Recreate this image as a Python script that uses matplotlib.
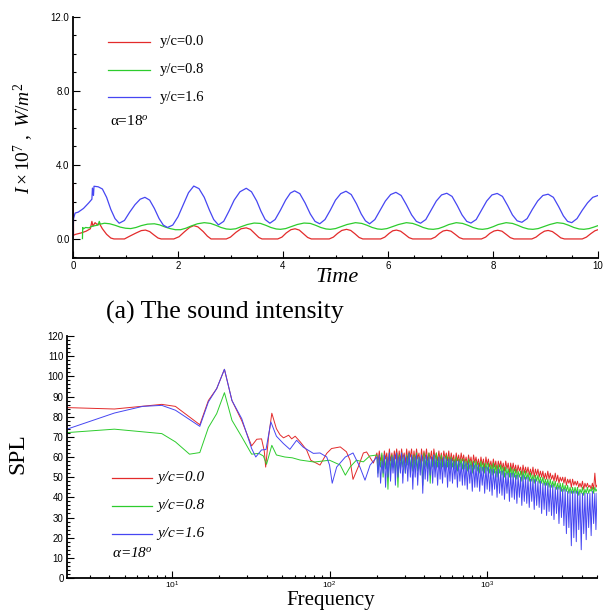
import matplotlib
matplotlib.use("Agg")
import matplotlib.pyplot as plt
from matplotlib.lines import Line2D
from matplotlib.ticker import MultipleLocator, FormatStrFormatter, LogLocator
import numpy as np

plt.rcParams['font.family'] = ['Liberation Serif', 'DejaVu Serif']
plt.rcParams['mathtext.fontset'] = 'custom'
plt.rcParams['mathtext.rm'] = 'Liberation Serif'
plt.rcParams['mathtext.it'] = 'Liberation Serif:italic'

RED = '#e32b2b'
GREEN = '#2dcc2d'
BLUE = '#4646f2'

labels = ['y/c=0.0', 'y/c=0.8', 'y/c=1.6']

# ---- (a) sound intensity vs time  (I x 1e7, W/m^2)
t_red = [0.00, 0.005, 0.01, 0.05, 0.15, 0.25, 0.33, 0.36, 0.38, 0.42, 0.46, 0.50, 0.56, 0.64,
         0.72, 0.78, 0.98, 1.08, 1.20, 1.30, 1.38, 1.46, 1.54, 1.62, 1.68, 1.92, 2.02, 2.12,
         2.22, 2.30, 2.38, 2.48, 2.56, 2.63, 2.92, 3.00, 3.10, 3.20, 3.30, 3.38, 3.46, 3.54,
         3.60, 3.90, 3.98, 4.06, 4.15, 4.23, 4.31, 4.39, 4.47, 4.54, 4.88, 4.96, 5.04, 5.12,
         5.21, 5.29, 5.37, 5.45, 5.52, 5.86, 5.94, 6.02, 6.09, 6.16, 6.24, 6.32, 6.40, 6.47,
         6.82, 6.90, 6.98, 7.05, 7.12, 7.20, 7.28, 7.36, 7.43, 7.78, 7.86, 7.94, 8.02, 8.09,
         8.17, 8.25, 8.33, 8.40, 8.74, 8.82, 8.90, 8.98, 9.05, 9.13, 9.21, 9.29, 9.36, 9.70,
         9.78, 9.86, 9.94, 10.0]
i_red = [0.00, 3.00, 0.20, 0.25, 0.32, 0.42, 0.55, 0.95, 0.70, 0.88, 0.78, 0.85, 0.55, 0.25,
         0.05, 0.00, 0.00, 0.15, 0.32, 0.45, 0.48, 0.40, 0.22, 0.05, 0.00, 0.00, 0.12, 0.38,
         0.62, 0.72, 0.65, 0.40, 0.15, 0.00, 0.00, 0.10, 0.35, 0.55, 0.60, 0.52, 0.30, 0.08,
         0.00, 0.00, 0.10, 0.32, 0.50, 0.55, 0.48, 0.28, 0.08, 0.00, 0.00, 0.10, 0.30, 0.46,
         0.52, 0.46, 0.28, 0.08, 0.00, 0.00, 0.10, 0.30, 0.44, 0.48, 0.42, 0.25, 0.07, 0.00,
         0.00, 0.10, 0.30, 0.43, 0.47, 0.42, 0.25, 0.07, 0.00, 0.00, 0.10, 0.30, 0.43, 0.47,
         0.42, 0.25, 0.07, 0.00, 0.00, 0.10, 0.28, 0.42, 0.46, 0.40, 0.24, 0.06, 0.00, 0.00,
         0.10, 0.28, 0.44, 0.50]

t_green = [0.18, 0.185, 0.20, 0.24, 0.30, 0.36, 0.42, 0.48, 0.50, 0.52, 0.60, 0.70, 0.80, 0.90,
           1.00, 1.10, 1.20, 1.30, 1.42, 1.55, 1.65, 1.75, 1.85, 1.95, 2.05, 2.15, 2.25, 2.37,
           2.50, 2.62, 2.72, 2.82, 2.92, 3.00, 3.10, 3.20, 3.32, 3.45, 3.57, 3.67, 3.77, 3.87,
           3.95, 4.05, 4.15, 4.27, 4.40, 4.52, 4.62, 4.72, 4.82, 4.90, 5.00, 5.10, 5.22, 5.38,
           5.50, 5.60, 5.70, 5.80, 5.88, 5.98, 6.08, 6.20, 6.35, 6.47, 6.57, 6.67, 6.77, 6.86,
           6.96, 7.06, 7.16, 7.30, 7.42, 7.52, 7.62, 7.72, 7.80, 7.90, 8.00, 8.10, 8.25, 8.37,
           8.47, 8.57, 8.67, 8.76, 8.86, 8.96, 9.08, 9.22, 9.34, 9.44, 9.54, 9.64, 9.73, 9.83,
           9.92, 10.0]
i_green = [0.02, 0.62, 0.55, 0.62, 0.60, 0.68, 0.72, 0.75, 0.95, 0.80, 0.85, 0.82, 0.74, 0.64,
           0.58, 0.56, 0.62, 0.72, 0.80, 0.82, 0.76, 0.65, 0.56, 0.50, 0.50, 0.58, 0.70, 0.82,
           0.88, 0.84, 0.74, 0.62, 0.54, 0.52, 0.55, 0.66, 0.78, 0.86, 0.84, 0.74, 0.62, 0.54,
           0.52, 0.56, 0.66, 0.78, 0.86, 0.84, 0.74, 0.62, 0.54, 0.52, 0.56, 0.66, 0.78, 0.88,
           0.84, 0.74, 0.62, 0.54, 0.52, 0.56, 0.66, 0.78, 0.88, 0.84, 0.74, 0.62, 0.54, 0.52,
           0.56, 0.66, 0.78, 0.88, 0.84, 0.74, 0.62, 0.54, 0.52, 0.56, 0.66, 0.78, 0.88, 0.84,
           0.74, 0.62, 0.54, 0.52, 0.56, 0.66, 0.78, 0.88, 0.84, 0.74, 0.62, 0.54, 0.52, 0.56,
           0.64, 0.72]

t_blue = [0.00, 0.01, 0.04, 0.10, 0.20, 0.30, 0.36, 0.37, 0.39, 0.40, 0.48, 0.56, 0.64, 0.72,
          0.80, 0.88, 0.98, 1.08, 1.18, 1.28, 1.37, 1.46, 1.55, 1.64, 1.72, 1.80, 1.90, 2.00,
          2.10, 2.20, 2.30, 2.40, 2.50, 2.60, 2.68, 2.77, 2.87, 2.97, 3.07, 3.18, 3.30, 3.40,
          3.50, 3.58, 3.66, 3.75, 3.85, 3.95, 4.05, 4.14, 4.22, 4.32, 4.42, 4.52, 4.61, 4.70,
          4.80, 4.90, 5.00, 5.10, 5.20, 5.30, 5.40, 5.49, 5.57, 5.65, 5.75, 5.85, 5.95, 6.05,
          6.15, 6.25, 6.35, 6.45, 6.54, 6.62, 6.72, 6.82, 6.92, 7.02, 7.12, 7.22, 7.32, 7.41,
          7.50, 7.58, 7.68, 7.78, 7.88, 7.98, 8.08, 8.18, 8.28, 8.37, 8.46, 8.55, 8.65, 8.75,
          8.85, 8.95, 9.05, 9.15, 9.25, 9.34, 9.42, 9.50, 9.60, 9.70, 9.80, 9.90, 10.0]
i_blue = [0.05, 1.10, 1.40, 1.45, 1.65, 1.95, 2.15, 2.75, 2.35, 2.85, 2.82, 2.70, 2.25, 1.60,
          1.10, 0.85, 1.00, 1.45, 1.85, 2.15, 2.25, 2.10, 1.65, 1.10, 0.75, 0.62, 0.75, 1.20,
          1.85, 2.50, 2.86, 2.72, 2.25, 1.55, 1.05, 0.76, 0.95, 1.50, 2.10, 2.55, 2.74, 2.55,
          2.05, 1.50, 1.05, 0.85, 1.05, 1.55, 2.10, 2.48, 2.60, 2.45, 1.95, 1.35, 0.95, 0.82,
          1.05, 1.55, 2.10, 2.45, 2.58, 2.40, 1.90, 1.35, 0.98, 0.82, 1.05, 1.55, 2.05, 2.40,
          2.52, 2.35, 1.85, 1.30, 0.95, 0.85, 1.05, 1.55, 2.05, 2.38, 2.47, 2.30, 1.80, 1.30,
          0.95, 0.86, 1.05, 1.55, 2.05, 2.38, 2.46, 2.30, 1.80, 1.30, 0.98, 0.90, 1.10, 1.60,
          2.05, 2.35, 2.42, 2.25, 1.75, 1.25, 0.95, 0.88, 1.10, 1.55, 1.95, 2.25, 2.35]

# ---- (b) SPL spectra
f_red_low = [2.15, 4.3, 8.6, 10.5, 15.0, 17.0, 19.2, 21.5, 24.0, 27.7, 32.0, 34.5, 37.0,
             38.5, 39.3, 41.0, 43.0, 46.0, 48.5, 51.0, 55.0, 57.5, 60.5, 65.0, 71.5, 76.0,
             87.0, 96.0, 103, 117, 128, 135, 141, 152, 164, 172, 190]
spl_red_low = [84.5, 83.8, 86.1, 85.1, 76.0, 88.0, 93.9, 103.5, 88.0, 78.0, 65.5, 68.8, 69.0,
               63.0, 55.0, 70.0, 81.7, 74.0, 71.0, 69.5, 70.8, 69.0, 70.3, 67.6, 63.5, 58.4,
               56.0, 61.8, 64.2, 65.0, 62.6, 58.4, 48.9, 55.0, 62.0, 62.5, 57.0]

f_green_low = [2.15, 4.3, 8.6, 10.5, 12.9, 15.0, 17.0, 19.2, 21.5, 24.0, 27.7, 32.0, 35.5,
               38.0, 39.8, 43.0, 46.0, 52.0, 58.0, 65.0, 72.0, 80.0, 90.0, 100, 117, 126, 135,
               148, 164, 180]
spl_green_low = [72.1, 73.8, 71.6, 67.5, 61.4, 62.2, 74.6, 81.5, 91.9, 78.2, 70.0, 61.4, 61.8,
                 60.5, 56.4, 65.8, 61.0, 60.0, 59.6, 58.5, 58.0, 57.5, 58.0, 58.4, 56.0, 51.0,
                 55.0, 58.4, 57.6, 60.5]

f_blue_low = [2.15, 4.3, 6.5, 8.6, 10.5, 15.0, 17.0, 19.2, 21.5, 24.0, 27.7, 32.0, 34.0, 37.0,
              39.5, 42.4, 46.0, 50.9, 56.0, 61.8, 68.0, 78.9, 87.0, 96.0, 100, 104, 111, 126,
              141, 156, 168, 181]
spl_blue_low = [73.8, 81.8, 85.1, 85.6, 83.2, 75.2, 87.3, 93.9, 103.5, 88.0, 79.0, 64.2, 60.0,
                63.5, 63.7, 77.4, 70.3, 66.7, 63.8, 68.3, 64.9, 61.8, 62.0, 60.0, 56.0, 47.0,
                55.0, 60.0, 62.0, 55.0, 48.5, 56.0]

# dense broadband region, read as alternating upper / lower excursions
f_band = [200, 203, 207, 211, 215, 219, 223, 227, 231, 235,
          240, 244, 249, 253, 258, 262, 267, 272, 277, 282,
          287, 292, 298, 303, 309, 314, 320, 326, 332, 338,
          344, 350, 357, 363, 370, 377, 384, 391, 398, 405,
          413, 420, 428, 436, 444, 452, 460, 468, 477, 486,
          495, 504, 513, 522, 532, 542, 552, 562, 572, 582,
          593, 604, 615, 626, 638, 649, 661, 673, 686, 698,
          711, 724, 737, 750, 764, 778, 792, 807, 822, 837,
          852, 867, 883, 899, 916, 933, 950, 967, 985, 1003,
          1021, 1040, 1059, 1078, 1098, 1118, 1138, 1159, 1180, 1202,
          1224, 1246, 1269, 1292, 1316, 1340, 1364, 1389, 1415, 1441,
          1467, 1494, 1521, 1549, 1577, 1606, 1635, 1665, 1695, 1726,
          1758, 1790, 1823, 1856, 1890, 1925, 1960, 1996, 2032, 2069,
          2107, 2146, 2185, 2225, 2265, 2307, 2349, 2392, 2435, 2480,
          2525, 2571, 2618, 2666, 2715, 2765, 2815, 2867, 2919, 2972,
          3026, 3082, 3138, 3196, 3254, 3313, 3373, 3435, 3498, 3562,
          3627, 3693, 3760, 3829, 3899, 3971, 4043, 4117, 4192, 4269,
          4346, 4426, 4507, 4590, 4673, 4759, 4845, 4922, 5000]
spl_red_band = [62, 57, 63, 58, 61, 55, 63, 59, 62, 56,
                64, 58, 62, 56, 63, 59, 64, 57, 63, 58,
                64, 59, 62, 57, 64, 58, 63, 60, 64, 57,
                63, 58, 64, 59, 62, 56, 64, 58, 63, 59,
                64, 58, 62, 59, 63, 57, 64, 59, 62, 58,
                63, 58, 62, 57, 63, 59, 62, 58, 63, 57,
                62, 58, 61, 56, 62, 58, 61, 57, 62, 58,
                61, 57, 60, 56, 61, 57, 60, 55, 61, 57,
                60, 56, 59, 55, 60, 56, 59, 54, 60, 56,
                59, 55, 58, 54, 59, 55, 58, 53, 58, 55,
                58, 54, 57, 53, 58, 54, 57, 52, 57, 53,
                57, 53, 56, 52, 56, 53, 55, 51, 56, 52,
                55, 52, 55, 51, 54, 51, 55, 50, 54, 51,
                54, 50, 53, 50, 53, 49, 52, 49, 53, 49,
                52, 49, 51, 48, 52, 48, 51, 47, 50, 48,
                50, 47, 50, 46, 49, 47, 49, 45, 49, 46,
                48, 46, 48, 45, 47, 45, 48, 44, 47, 45,
                47, 45, 46, 44, 47, 44, 52, 45, 46]
spl_green_band = [61, 52, 60, 55, 62, 50, 61, 54, 60, 44,
                  62, 53, 61, 55, 60, 52, 62, 45, 61, 54,
                  62, 55, 60, 52, 61, 56, 62, 54, 61, 53,
                  61, 55, 62, 53, 60, 54, 61, 46, 62, 55,
                  61, 54, 62, 47, 60, 55, 61, 54, 62, 55,
                  60, 54, 61, 55, 60, 53, 61, 55, 60, 54,
                  60, 55, 59, 54, 60, 53, 59, 55, 59, 54,
                  59, 54, 58, 53, 59, 54, 58, 52, 58, 54,
                  58, 53, 57, 52, 58, 53, 57, 52, 57, 53,
                  57, 52, 56, 51, 57, 52, 56, 50, 56, 52,
                  56, 51, 55, 50, 55, 51, 54, 50, 55, 50,
                  54, 50, 54, 49, 53, 50, 53, 48, 53, 49,
                  53, 49, 52, 48, 52, 48, 51, 47, 51, 48,
                  51, 47, 50, 47, 50, 46, 49, 46, 49, 45,
                  49, 45, 48, 45, 48, 44, 47, 44, 47, 43,
                  47, 43, 46, 43, 46, 42, 45, 42, 45, 42,
                  45, 42, 45, 41, 44, 42, 45, 41, 44, 42,
                  45, 42, 44, 43, 45, 42, 45, 43, 44]
spl_blue_band = [60, 50, 61, 47, 58, 52, 61, 45, 60, 50,
                 62, 48, 60, 52, 61, 46, 62, 50, 60, 52,
                 62, 47, 61, 52, 60, 48, 62, 50, 61, 44,
                 60, 50, 61, 46, 60, 51, 61, 42, 60, 49,
                 61, 48, 60, 51, 60, 47, 61, 50, 59, 46,
                 60, 49, 59, 47, 60, 50, 59, 45, 59, 48,
                 59, 47, 58, 49, 58, 45, 58, 48, 57, 46,
                 58, 46, 57, 44, 57, 47, 56, 43, 57, 45,
                 56, 45, 56, 43, 55, 46, 55, 42, 55, 44,
                 55, 43, 54, 41, 54, 44, 53, 40, 54, 42,
                 53, 41, 53, 39, 52, 42, 52, 38, 52, 40,
                 52, 39, 51, 37, 51, 40, 50, 36, 51, 38,
                 50, 37, 50, 35, 49, 38, 49, 34, 49, 36,
                 48, 35, 48, 32, 47, 34, 47, 31, 47, 33,
                 46, 31, 46, 29, 45, 32, 45, 27, 45, 30,
                 44, 26, 44, 22, 43, 25, 43, 16, 43, 20,
                 43, 18, 43, 24, 42, 14, 42, 22, 42, 19,
                 42, 25, 42, 21, 43, 27, 42, 24, 42]

fig = plt.figure(figsize=(6.03, 6.12), dpi=100)
W, H = 603.0, 612.0


def fx(px):
    return px / W


def fy(py):
    return 1 - py / H


def style_axes(ax):
    for s in ['top', 'right']:
        ax.spines[s].set_visible(False)
    for s in ['left', 'bottom']:
        ax.spines[s].set_linewidth(1.3)
    ax.tick_params(which='both', direction='in', colors='black', width=0.8,
                   labelfontfamily='Liberation Sans', pad=2.5)
    ax.tick_params(which='major', length=5)
    ax.tick_params(which='minor', length=2.5)


# ---------------- top panel
ax1 = fig.add_axes([fx(73), fy(258), fx(598) - fx(73), fy(17) - fy(258)])
ax1.plot(t_red, i_red, color=RED, lw=0.9)
ax1.plot(t_green, i_green, color=GREEN, lw=0.9)
ax1.plot(t_blue, i_blue, color=BLUE, lw=0.9)
ax1.set_xlim(0, 10)
ax1.set_ylim(-1.03, 12)
ax1.xaxis.set_major_locator(MultipleLocator(2))
ax1.xaxis.set_minor_locator(MultipleLocator(0.5))
ax1.yaxis.set_major_locator(MultipleLocator(4))
ax1.yaxis.set_minor_locator(MultipleLocator(1))
ax1.yaxis.set_major_formatter(FormatStrFormatter('%.1f'))
style_axes(ax1)
ax1.tick_params(labelsize=7)

fig.text(fx(337), fy(278), 'Time', fontsize=16, style='italic', ha='center', va='center')
fig.text(fx(24), fy(138), r'$\mathit{I\times10^{7}\ ,\ W/m^{2}}$', fontsize=14,
         rotation=90, ha='center', va='center')

for k, (c, y) in enumerate(zip([RED, GREEN, BLUE], [42, 70, 97])):
    fig.add_artist(Line2D([fx(108), fx(150)], [fy(y), fy(y)], color=c, lw=0.9))
    fig.text(fx(160), fy(y), labels[k], fontsize=10.5, ha='left', va='center')
fig.text(fx(110), fy(121), r'α=18$^{o}$', fontsize=11, ha='left', va='center')

fig.text(fx(225), fy(312), '(a) The sound intensity', fontsize=18.5, ha='center', va='center')

# ---------------- bottom panel
ax2 = fig.add_axes([fx(67), fy(578), fx(597) - fx(67), fy(336) - fy(578)])
ax2.plot(f_red_low + f_band, spl_red_low + spl_red_band, color=RED, lw=0.7)
ax2.plot(f_green_low + f_band, spl_green_low + spl_green_band, color=GREEN, lw=0.7)
ax2.plot(f_blue_low + f_band, spl_blue_low + spl_blue_band, color=BLUE, lw=0.7)
ax2.set_xscale('log')
ax2.set_xlim(2.15, 5000)
ax2.set_ylim(0, 120)
ax2.xaxis.set_major_locator(LogLocator(base=10, numticks=10))
ax2.xaxis.set_minor_locator(LogLocator(base=10, subs=np.arange(2, 10), numticks=10))
ax2.yaxis.set_major_locator(MultipleLocator(10))
ax2.yaxis.set_minor_locator(MultipleLocator(2))
style_axes(ax2)
ax2.tick_params(axis='y', labelsize=7)
ax2.tick_params(axis='x', labelsize=6, pad=1.5)

fig.text(fx(331), fy(600), 'Frequency', fontsize=15, ha='center', va='center')
fig.text(fx(18), fy(454), 'SPL', fontsize=17, rotation=90, ha='center', va='center')

for k, (c, y) in enumerate(zip([RED, GREEN, BLUE], [478, 506, 534])):
    fig.add_artist(Line2D([fx(112), fx(152)], [fy(y), fy(y)], color=c, lw=0.9))
    fig.text(fx(157), fy(y), labels[k], fontsize=11, style='italic', ha='left', va='center')
fig.text(fx(112), fy(553), r'α=18$^{o}$', fontsize=11, style='italic', ha='left', va='center')

fig.savefig('out.png', dpi=100)
